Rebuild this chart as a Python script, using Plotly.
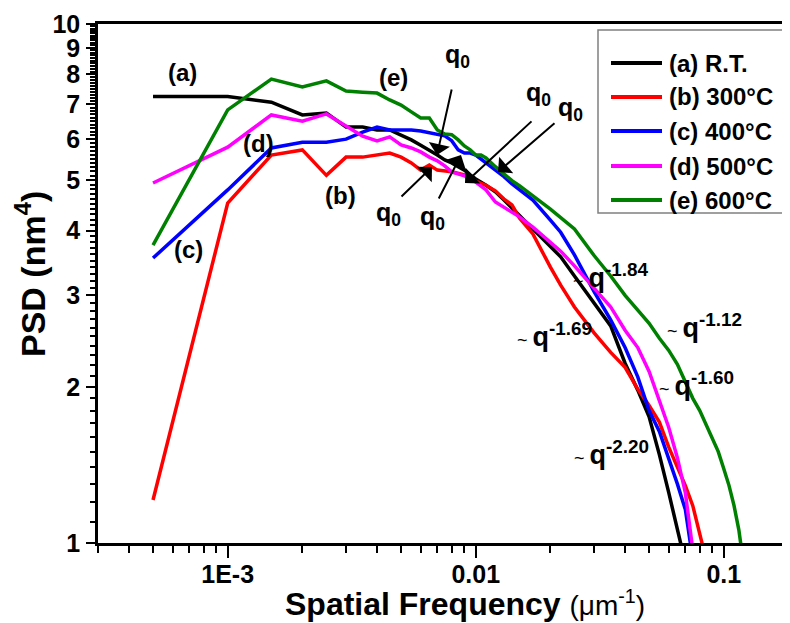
import numpy as np
import plotly.graph_objects as go

# ---------------- data ----------------
q_a = [0.0005, 0.001, 0.0015, 0.002, 0.0025, 0.003, 0.0035, 0.004, 0.0045, 0.005,
       0.0055, 0.006, 0.0065, 0.007, 0.0075, 0.008, 0.0085, 0.009, 0.0095, 0.01,
       0.011, 0.012, 0.013, 0.014, 0.015, 0.017, 0.02, 0.022, 0.025, 0.03,
       0.035, 0.04, 0.045, 0.05, 0.055, 0.06, 0.065, 0.068]
psd_a = [7.25, 7.25, 7.07, 6.68, 6.74, 6.33, 6.33, 6.25, 6.25, 6.12,
         5.98, 5.84, 5.72, 5.59, 5.47, 5.40, 5.31, 5.23, 5.12, 5.03,
         4.89, 4.75, 4.58, 4.42, 4.28, 4.03, 3.72, 3.56, 3.27, 2.89,
         2.62, 2.22, 1.97, 1.75, 1.48, 1.25, 1.07, 0.97]

q_b = [0.0005, 0.001, 0.0015, 0.002, 0.0025, 0.003, 0.0035, 0.004, 0.0045, 0.005,
       0.0055, 0.006, 0.0065, 0.007, 0.0075, 0.008, 0.009, 0.01, 0.011, 0.012,
       0.013, 0.014, 0.015, 0.017, 0.02, 0.022, 0.025, 0.03, 0.035, 0.04,
       0.045, 0.05, 0.055, 0.06, 0.065, 0.07, 0.075, 0.08, 0.083]
psd_b = [1.21, 4.52, 5.59, 5.72, 5.11, 5.54, 5.54, 5.59, 5.64, 5.54,
         5.40, 5.23, 5.35, 5.23, 5.21, 5.19, 5.12, 4.98, 4.89, 4.77,
         4.60, 4.48, 4.23, 3.94, 3.40, 3.14, 2.85, 2.54, 2.33, 2.18,
         1.98, 1.84, 1.71, 1.53, 1.40, 1.29, 1.18, 1.04, 0.97]

q_c = [0.0005, 0.001, 0.0015, 0.002, 0.0025, 0.003, 0.0035, 0.004, 0.0045, 0.005,
       0.0055, 0.006, 0.0065, 0.007, 0.0075, 0.008, 0.0085, 0.009, 0.0095, 0.01,
       0.011, 0.012, 0.013, 0.014, 0.015, 0.017, 0.02, 0.022, 0.025, 0.03,
       0.035, 0.04, 0.045, 0.05, 0.055, 0.06, 0.065, 0.07, 0.074]
psd_c = [3.54, 4.79, 5.77, 5.92, 5.92, 6.00, 6.19, 6.33, 6.25, 6.25,
         6.25, 6.22, 6.17, 6.12, 6.09, 5.96, 5.72, 5.64, 5.64, 5.59,
         5.40, 5.23, 5.08, 4.92, 4.79, 4.58, 4.19, 3.97, 3.59, 3.05,
         2.69, 2.38, 2.09, 1.80, 1.64, 1.46, 1.30, 1.16, 0.97]

q_d = [0.0005, 0.001, 0.0015, 0.002, 0.0025, 0.003, 0.0035, 0.004, 0.0045, 0.005,
       0.0055, 0.006, 0.0065, 0.007, 0.0075, 0.008, 0.009, 0.01, 0.011, 0.012,
       0.013, 0.014, 0.015, 0.017, 0.02, 0.022, 0.025, 0.03, 0.035, 0.04,
       0.045, 0.05, 0.055, 0.06, 0.065, 0.07, 0.075]
psd_d = [4.94, 5.79, 6.68, 6.50, 6.71, 6.35, 6.08, 5.95, 6.06, 5.85,
         5.77, 5.67, 5.54, 5.45, 5.33, 5.19, 5.10, 4.96, 4.79, 4.54,
         4.44, 4.35, 4.25, 4.06, 3.80, 3.65, 3.42, 3.10, 2.85, 2.57,
         2.38, 2.14, 1.89, 1.67, 1.46, 1.25, 0.97]

q_e = [0.0005, 0.001, 0.0015, 0.002, 0.0025, 0.003, 0.0035, 0.004, 0.0045, 0.005,
       0.0055, 0.006, 0.0065, 0.007, 0.0075, 0.008, 0.0085, 0.009, 0.0095, 0.01,
       0.0105, 0.011, 0.012, 0.013, 0.014, 0.015, 0.017, 0.02, 0.025, 0.03,
       0.035, 0.04, 0.045, 0.05, 0.055, 0.06, 0.065, 0.07, 0.075, 0.08,
       0.085, 0.09, 0.095, 0.1, 0.105, 0.11, 0.115, 0.118]
psd_e = [3.75, 6.83, 7.83, 7.56, 7.77, 7.43, 7.39, 7.36, 7.14, 6.98,
         6.77, 6.59, 6.59, 6.25, 6.14, 6.12, 5.98, 5.82, 5.72, 5.59,
         5.59, 5.52, 5.31, 5.14, 4.99, 4.88, 4.66, 4.40, 4.03, 3.58,
         3.27, 3.00, 2.81, 2.65, 2.48, 2.35, 2.21, 2.04, 1.90, 1.80,
         1.69, 1.58, 1.50, 1.39, 1.29, 1.18, 1.06, 0.97]

series_names = ["(a) R.T.", "(b) 300°C", "(c) 400°C", "(d) 500°C", "(e) 600°C"]
series_colors = ["#000000", "#ff0000", "#0000ff", "#ff00ff", "#008000"]
series_q = [q_a, q_b, q_c, q_d, q_e]
series_psd = [psd_a, psd_b, psd_c, psd_d, psd_e]

x_tickvals = [0.001, 0.01, 0.1]
x_ticktext = ["1E-3", "0.01", "0.1"]
y_labelled = [1, 2, 3, 4, 5, 6, 7, 8, 9, 10]

curve_labels = ["(a)", "(b)", "(c)", "(d)", "(e)"]
slope_labels = ["-1.84", "-1.69", "-1.12", "-1.60", "-2.20"]

# ---------------- layout geometry ----------------
# The page body has an 8px margin, so the figure is made 8px smaller and all
# positions below are given in page (reference) pixels.
OFF = 8
W, H = 790 - OFF, 623 - OFF
L_PAGE, T_PAGE, B_PAGE = 98, 24, 543          # plot area edges on the page
L, T = L_PAGE - OFF, T_PAGE - OFF
B = H - (B_PAGE - OFF)
PW, PH = W - L, H - T - B


def px(x):
    return (x - L_PAGE) / PW


def py(y):
    return (B_PAGE - y) / PH


FONT = "Liberation Sans, Arial, sans-serif"

fig = go.Figure()
for name, col, qv, pv in zip(series_names, series_colors, series_q, series_psd):
    fig.add_trace(go.Scatter(x=qv, y=pv, mode="lines", name=name,
                             line=dict(color=col, width=3.5), showlegend=False))

x_minor = [float(m) * 10.0 ** e for e in (-4, -3, -2, -1) for m in range(2, 10)]
# PSD axis: a tick every 0.1, labels only on the integers
y_ticks = [round(i + k / 10.0, 1) for i in range(1, 10) for k in range(0, 10)] + [10.0]
y_text = [str(int(v)) if abs(v - round(v)) < 1e-9 else "" for v in y_ticks]

fig.update_layout(
    width=W, height=H,
    margin=dict(l=L, r=0, t=T, b=B, pad=0),
    plot_bgcolor="white", paper_bgcolor="white",
    font=dict(family=FONT, color="black"),
    xaxis=dict(type="log", range=[np.log10(0.0003), -0.733],
               showline=True, linecolor="black", linewidth=2.5, mirror=True,
               ticks="outside", ticklen=12, tickwidth=2, tickcolor="black",
               tickvals=x_tickvals, ticktext=x_ticktext, ticklabelstandoff=-5,
               tickfont=dict(size=25, family=FONT, weight="bold"),
               minor=dict(ticks="outside", ticklen=7, tickwidth=2, tickcolor="black",
                          tickmode="array", tickvals=x_minor, showgrid=False),
               showgrid=False, zeroline=False),
    yaxis=dict(type="log", range=[0, 1],
               showline=True, linecolor="black", linewidth=2.5,
               ticks="outside", ticklen=5, tickwidth=1.5, tickcolor="black",
               tickmode="array", tickvals=y_ticks, ticktext=y_text,
               ticklabelstandoff=5,
               tickfont=dict(size=25, family=FONT, weight="bold"),
               minor=dict(ticks="outside", ticklen=9, tickwidth=2, tickcolor="black",
                          tickmode="array", tickvals=y_labelled, showgrid=False),
               showgrid=False, zeroline=False),
)

ann = []
# axis titles
ann.append(dict(xref="paper", yref="paper", x=px(465), y=py(603), showarrow=False,
                xanchor="center", yanchor="middle",
                text="<b>Spatial Frequency</b> <span style='font-size:28px'>(μm<sup>-1</sup>)</span>",
                font=dict(size=32, family=FONT)))
ann.append(dict(xref="paper", yref="paper", x=px(30), y=py(274), showarrow=False,
                xanchor="center", yanchor="middle", textangle=-90,
                text="<b>PSD (nm<sup>4</sup>)</b>", font=dict(size=34, family=FONT)))

# curve labels
label_pos = [(182, 73), (340, 195), (188, 250), (258, 143), (393, 77)]
for t, (x, y) in zip(curve_labels, label_pos):
    ann.append(dict(xref="paper", yref="paper", x=px(x), y=py(y), showarrow=False,
                    xanchor="center", yanchor="middle", text="<b>%s</b>" % t,
                    font=dict(size=24, family=FONT)))

# q0 labels
q0_pos = [(457, 56), (538, 94), (570, 109), (388, 214), (432, 218)]
for (x, y) in q0_pos:
    ann.append(dict(xref="paper", yref="paper", x=px(x), y=py(y), showarrow=False,
                    xanchor="center", yanchor="middle", text="<b>q<sub>0</sub></b>",
                    font=dict(size=25, family=FONT)))

# arrows: (tail, head)
arrows = [((452, 88), (437, 155)), ((533, 120), (465, 183)), ((556, 122), (498, 172)),
          ((400, 198), (432, 167)), ((438, 200), (461, 155))]
for (tx, ty), (hx, hy) in arrows:
    ann.append(dict(xref="paper", yref="paper", x=px(hx), y=py(hy), ax=tx - hx, ay=ty - hy,
                    axref="pixel", ayref="pixel", text="", showarrow=True,
                    arrowhead=1, arrowsize=1.8, arrowwidth=2, arrowcolor="black", standoff=0))

# slope labels (left edge, vertical middle)
slope_pos = [(571, 276), (515, 335), (665, 326), (657, 384), (572, 453)]
for s, (x, y) in zip(slope_labels, slope_pos):
    ann.append(dict(xref="paper", yref="paper", x=px(x), y=py(y), showarrow=False,
                    xanchor="left", yanchor="middle",
                    text="<span style='font-size:18px'>~ </span><b>q<sup>%s</sup></b>" % s,
                    font=dict(size=27, family=FONT)))

# legend box, drawn by hand so that it runs past the right edge as in the reference
shapes = [dict(type="rect", xref="paper", yref="paper", x0=px(598), x1=px(830),
               y0=py(213), y1=py(30), line=dict(color="#808080", width=1.5),
               fillcolor="white", layer="below")]
legend_rows = [63, 97, 131, 166, 200]
for name, col, yr in zip(series_names, series_colors, legend_rows):
    shapes.append(dict(type="line", xref="paper", yref="paper", x0=px(611), x1=px(662),
                       y0=py(yr), y1=py(yr), line=dict(color=col, width=4)))
    ann.append(dict(xref="paper", yref="paper", x=px(667), y=py(yr), showarrow=False,
                    xanchor="left", yanchor="middle", text="<b>%s</b>" % name,
                    font=dict(size=24, family=FONT)))

fig.update_layout(annotations=ann, shapes=shapes)
fig.write_html("out.html")
